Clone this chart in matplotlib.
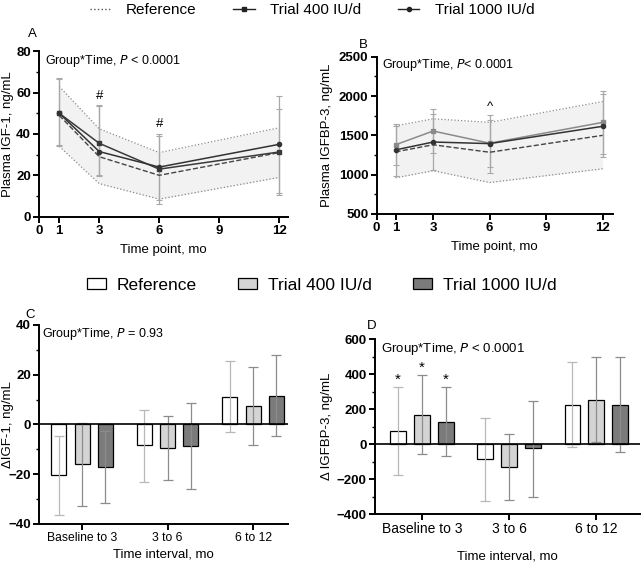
import numpy as np
import matplotlib
matplotlib.use('Agg')
from matplotlib import pyplot as plt
from matplotlib.lines import Line2D
from matplotlib.patches import Patch
from matplotlib.ticker import MultipleLocator

plt.rcParams['font.family'] = ['Liberation Sans', 'DejaVu Sans']

# ---- data ----
months = [1, 3, 6, 12]

igf_ref = [49, 29, 20, 31]
igf_ref_hi = [63, 42.5, 31, 43]
igf_ref_lo = [34, 16, 8.5, 19]
igf_400 = [50, 35.5, 23, 31.3]
igf_400_hi = [67, 54, 40, 52]
igf_400_lo = [34.5, 20, 8, 10.5]
igf_1000 = [50, 31.5, 24, 35]
igf_1000_hi = [66.5, 53.5, 39, 58.5]
igf_1000_lo = [34, 19.5, 6, 11.5]

bp3_ref = [1290, 1380, 1285, 1500]
bp3_ref_hi = [1620, 1710, 1665, 1930]
bp3_ref_lo = [960, 1050, 900, 1075]
bp3_400 = [1380, 1555, 1400, 1665]
bp3_400_hi = [1650, 1840, 1760, 2060]
bp3_400_lo = [980, 1055, 1020, 1260]
bp3_1000 = [1315, 1415, 1395, 1615]
bp3_1000_hi = [1620, 1770, 1700, 2020]
bp3_1000_lo = [1120, 1270, 1100, 1220]

intervals = ['Baseline to 3', '3 to 6', '6 to 12']
d_igf = {'Reference': [-20.3, -8.3, 11.0],
         'Trial 400 IU/d': [-15.8, -9.3, 7.5],
         'Trial 1000 IU/d': [-17.0, -8.5, 11.5]}
d_igf_lo = {'Reference': [-36.5, -23, -3],
            'Trial 400 IU/d': [-32.8, -22.3, -8.2],
            'Trial 1000 IU/d': [-31.5, -26, -4.5]}
d_igf_hi = {'Reference': [-4.5, 6, 25.5],
            'Trial 400 IU/d': [0.7, 3.5, 23.3],
            'Trial 1000 IU/d': [-2.8, 8.8, 27.8]}

d_bp3 = {'Reference': [75, -85, 225],
         'Trial 400 IU/d': [165, -130, 250],
         'Trial 1000 IU/d': [125, -20, 225]}
d_bp3_lo = {'Reference': [-175, -325, -15],
            'Trial 400 IU/d': [-55, -320, 10],
            'Trial 1000 IU/d': [-70, -305, -45]}
d_bp3_hi = {'Reference': [325, 150, 470],
            'Trial 400 IU/d': [395, 60, 495],
            'Trial 1000 IU/d': [325, 245, 500]}

groups = ['Reference', 'Trial 400 IU/d', 'Trial 1000 IU/d']
bar_colors = {'Reference': 'white', 'Trial 400 IU/d': '#d4d4d4',
              'Trial 1000 IU/d': '#7b7b7b'}
err_colors = {'Reference': '#b8b8b8', 'Trial 400 IU/d': '#8c8c8c',
              'Trial 1000 IU/d': '#8c8c8c'}


def style_axes(ax, tick_size=9.5):
    for s in ['top', 'right']:
        ax.spines[s].set_visible(False)
    for s in ['left', 'bottom']:
        ax.spines[s].set_linewidth(1.4)
    ax.tick_params(axis='both', width=1.4, length=4, direction='out', pad=2)
    ax.tick_params(axis='y', which='minor', width=1.0, length=2.5)
    for lb in ax.get_xticklabels() + ax.get_yticklabels():
        lb.set_fontweight('bold')
        lb.set_fontsize(tick_size)


def line_panel(ax, ref, ref_hi, ref_lo, t400, t400_hi, t400_lo,
               t1000, t1000_hi, t1000_lo, c400):
    ax.fill_between(months, ref_lo, ref_hi, color='#f2f2f2', lw=0, zorder=1)
    ax.plot(months, ref_hi, ls=':', color='#8a8a8a', lw=0.9, zorder=2)
    ax.plot(months, ref_lo, ls=':', color='#8a8a8a', lw=0.9, zorder=2)
    ax.plot(months, ref, ls='--', color='#444444', lw=1.0, zorder=3)
    for m, y, lo, hi in zip(months, t400, t400_lo, t400_hi):
        ax.errorbar(m, y, yerr=[[y - lo], [hi - y]], color='#a8a8a8',
                    lw=0.9, capsize=2, capthick=0.8, zorder=2)
    for m, y, lo, hi in zip(months, t1000, t1000_lo, t1000_hi):
        ax.errorbar(m, y, yerr=[[y - lo], [hi - y]], color='#a8a8a8',
                    lw=0.9, capsize=2, capthick=0.8, zorder=2)
    ax.plot(months, t400, '-s', color=c400, lw=1.1, ms=3.5, zorder=4)
    ax.plot(months, t1000, '-o', color='#333333', lw=1.1, ms=3, zorder=4)
    ax.set_xticks([0, 1, 3, 6, 9, 12])
    ax.set_xlabel('Time point, mo', fontsize=9.5, labelpad=5)


def bar_panel(ax, vals, lo, hi, offs, width):
    x = np.arange(len(intervals))
    for i, g in enumerate(groups):
        xs = x + offs[i]
        ax.bar(xs, vals[g], width=width, color=bar_colors[g],
               edgecolor='black', lw=0.9, zorder=3)
        yerr = [np.array(vals[g]) - np.array(lo[g]),
                np.array(hi[g]) - np.array(vals[g])]
        ax.errorbar(xs, vals[g], yerr=yerr, fmt='none', ecolor=err_colors[g],
                    elinewidth=0.9, capsize=3.5, capthick=0.9, zorder=4)
    ax.axhline(0, color='black', lw=1.2, zorder=5)
    ax.set_xticks(x)
    ax.set_xticklabels(intervals)
    return x


fig = plt.figure(figsize=(6.43, 5.63), dpi=100)

# Panel A
axA = fig.add_axes([0.0611, 0.6151, 0.387, 0.2938])
line_panel(axA, igf_ref, igf_ref_hi, igf_ref_lo, igf_400, igf_400_hi,
           igf_400_lo, igf_1000, igf_1000_hi, igf_1000_lo, '#3a3a3a')
axA.set_xlim(0, 12.45)
axA.set_ylim(0, 80)
axA.yaxis.set_major_locator(MultipleLocator(20))
axA.yaxis.set_minor_locator(MultipleLocator(10))
axA.set_ylabel('Plasma IGF-1, ng/mL', fontsize=9.5)
axA.yaxis.set_label_coords(-0.1, 0.5)
axA.text(0.3, 79, 'Group*Time, $\\it{P}$ < 0.0001', fontsize=9, va='top')
axA.text(3, 57, '#', ha='center', fontsize=9.5)
axA.text(6, 43.5, '#', ha='center', fontsize=9.5)
style_axes(axA)
fig.text(0.044, 0.935, 'A', fontsize=9.5)

# Panel B
axB = fig.add_axes([0.5858, 0.6199, 0.367, 0.2794])
line_panel(axB, bp3_ref, bp3_ref_hi, bp3_ref_lo, bp3_400, bp3_400_hi,
           bp3_400_lo, bp3_1000, bp3_1000_hi, bp3_1000_lo, '#8a8a8a')
axB.set_xlim(0, 12.53)
axB.set_ylim(500, 2500)
axB.yaxis.set_major_locator(MultipleLocator(500))
axB.yaxis.set_minor_locator(MultipleLocator(250))
axB.set_ylabel('Plasma IGFBP-3, ng/mL', fontsize=9.5)
axB.yaxis.set_label_coords(-0.185, 0.5)
axB.text(0.3, 2490, 'Group*Time, $\\it{P}$< 0.0001', fontsize=9, va='top')
axB.text(6, 1820, '^', ha='center', fontsize=9.5)
style_axes(axB)
fig.text(0.558, 0.915, 'B', fontsize=9.5)

# Panel C
axC = fig.add_axes([0.0611, 0.0693, 0.387, 0.3535])
bar_panel(axC, d_igf, d_igf_lo, d_igf_hi, [-0.27, 0, 0.27], 0.175)
axC.set_xlim(-0.5, 2.41)
axC.set_ylim(-40, 40)
axC.yaxis.set_major_locator(MultipleLocator(20))
axC.yaxis.set_minor_locator(MultipleLocator(10))
axC.set_ylabel('\u0394IGF-1, ng/mL', fontsize=9.5)
axC.yaxis.set_label_coords(-0.1, 0.5)
axC.set_xlabel('Time interval, mo', fontsize=9.5, labelpad=3)
axC.text(-0.47, 39.5, 'Group*Time, $\\it{P}$ = 0.93', fontsize=9, va='top')
style_axes(axC)
for lb in axC.get_xticklabels():
    lb.set_fontweight('normal')
    lb.set_fontsize(8.7)
fig.text(0.04, 0.435, 'C', fontsize=9.5)

# Panel D
axD = fig.add_axes([0.5832, 0.087, 0.412, 0.3108])
bar_panel(axD, d_bp3, d_bp3_lo, d_bp3_hi, [-0.275, 0, 0.275], 0.18)
axD.set_xlim(-0.54, 2.5)
axD.set_ylim(-400, 600)
axD.yaxis.set_major_locator(MultipleLocator(200))
axD.yaxis.set_minor_locator(MultipleLocator(100))
axD.set_ylabel('\u0394 IGFBP-3, ng/mL', fontsize=9.5)
axD.yaxis.set_label_coords(-0.158, 0.5)
axD.set_xlabel('Time interval, mo', fontsize=9.5, labelpad=10)
axD.text(-0.47, 590, 'Group*Time, $\\it{P}$ < 0.0001', fontsize=9.5,
         va='top')
for xo, yv in zip([-0.275, 0, 0.275], [345, 415, 345]):
    axD.text(xo, yv, '*', ha='center', fontsize=11)
style_axes(axD)
for lb in axD.get_xticklabels():
    lb.set_fontweight('normal')
    lb.set_fontsize(10)
fig.text(0.571, 0.415, 'D', fontsize=9.5)

# top legend (line panels)
h_lines = [Line2D([], [], ls=':', color='#555555', lw=1),
           Line2D([], [], ls='-', marker='s', color='#222222', lw=1, ms=3.5),
           Line2D([], [], ls='-', marker='o', color='#222222', lw=1, ms=3)]
fig.legend(h_lines, groups, loc='center', bbox_to_anchor=(0.485, 0.982),
           ncol=3, frameon=False, fontsize=11, handlelength=1.4,
           columnspacing=2.4, handletextpad=1.0)

# middle legend (bar panels)
h_bars = [Patch(facecolor=bar_colors[g], edgecolor='black', lw=0.9)
          for g in groups]
fig.legend(h_bars, groups, loc='center', bbox_to_anchor=(0.5, 0.493),
           ncol=3, frameon=False, fontsize=12.5, handlelength=1.1,
           handleheight=0.6, columnspacing=2.4, handletextpad=0.6)

fig.savefig('out.png', dpi=100)
